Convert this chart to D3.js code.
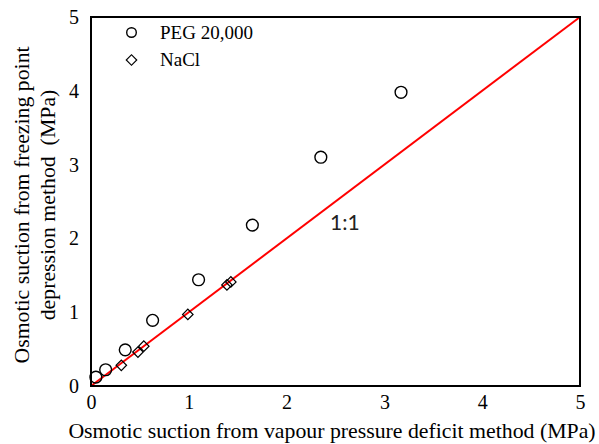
<!DOCTYPE html>
<html><head><meta charset="utf-8">
<script src="https://cdn.jsdelivr.net/npm/d3@7"></script>
<style>body{margin:0;background:#fff}svg{display:block}</style>
</head><body>
<script>
const pegX = [0.05, 0.15, 0.35, 0.63, 1.10, 1.65, 2.35, 3.17];
const pegY = [0.12, 0.22, 0.49, 0.89, 1.44, 2.18, 3.10, 3.98];
const naclX = [0.31, 0.48, 0.54, 0.99, 1.39, 1.43];
const naclY = [0.28, 0.46, 0.54, 0.97, 1.37, 1.41];
const ticks = [0, 1, 2, 3, 4, 5];
const lineXY = [[0, 0], [5, 5]];
const seriesNames = ["PEG 20,000", "NaCl"];

const W = 599, H = 444;
const m = {l: 91, r: 19, t: 17, b: 58};
const svg = d3.select("body").append("svg").attr("width", W).attr("height", H);
const x = d3.scaleLinear().domain([0, 5]).range([m.l, W - m.r]);
const y = d3.scaleLinear().domain([0, 5]).range([H - m.b, m.t]);
const serif = "'Liberation Serif','Times New Roman',serif";

// tick labels
const xa = svg.append("g").attr("transform", `translate(0,${H - m.b})`)
  .call(d3.axisBottom(x).tickValues(ticks).tickFormat(d3.format("d")).tickSize(0).tickPadding(9));
xa.select(".domain").remove();
xa.selectAll("text").attr("font-family", serif).attr("font-size", 20).attr("fill", "#000");
const ya = svg.append("g").attr("transform", `translate(${m.l},0)`)
  .call(d3.axisLeft(y).tickValues(ticks).tickFormat(d3.format("d")).tickSize(0).tickPadding(12));
ya.select(".domain").remove();
ya.selectAll("text").attr("font-family", serif).attr("font-size", 20).attr("fill", "#000");

// 1:1 line
svg.append("line")
  .attr("x1", x(lineXY[0][0])).attr("y1", y(lineXY[0][1]))
  .attr("x2", x(lineXY[1][0])).attr("y2", y(lineXY[1][1]))
  .attr("stroke", "#ff0000").attr("stroke-width", 2);

// frame
svg.append("rect").attr("x", x(0)).attr("y", y(5))
  .attr("width", x(5) - x(0)).attr("height", y(0) - y(5))
  .attr("fill", "none").attr("stroke", "#000").attr("stroke-width", 2);

const circ = d3.symbol().type(d3.symbolCircle).size(Math.PI * 5.9 * 5.9);
const circL = d3.symbol().type(d3.symbolCircle).size(Math.PI * 4.8 * 4.8);
const diam = d3.symbol().type(d3.symbolSquare).size(7.4 * 7.4);

svg.append("g").selectAll("path").data(pegX.map((d, i) => [d, pegY[i]])).join("path")
  .attr("d", circ).attr("transform", d => `translate(${x(d[0])},${y(d[1])})`)
  .attr("fill", "none").attr("stroke", "#000").attr("stroke-width", 1.4);
svg.append("g").selectAll("path").data(naclX.map((d, i) => [d, naclY[i]])).join("path")
  .attr("d", diam).attr("transform", d => `translate(${x(d[0])},${y(d[1])}) rotate(45)`)
  .attr("fill", "none").attr("stroke", "#000").attr("stroke-width", 1.2);

// legend
const lg = svg.append("g");
lg.append("path").attr("d", circL).attr("transform", "translate(131.5,32.5)")
  .attr("fill", "none").attr("stroke", "#000").attr("stroke-width", 1.4);
lg.append("path").attr("d", diam).attr("transform", "translate(131.5,60) rotate(45)")
  .attr("fill", "none").attr("stroke", "#000").attr("stroke-width", 1.2);
lg.append("text").attr("x", 160).attr("y", 39).text(seriesNames[0])
  .attr("font-family", serif).attr("font-size", 19);
lg.append("text").attr("x", 160).attr("y", 66).text(seriesNames[1])
  .attr("font-family", serif).attr("font-size", 19);

// 1:1 label
svg.append("text").attr("x", 330).attr("y", 230).text("1:1")
  .attr("font-family", "Lato,'Open Sans',sans-serif").attr("font-size", 21).attr("fill", "#222");

// axis titles
svg.append("text").attr("x", 332).attr("y", 438).attr("text-anchor", "middle")
  .attr("font-family", serif).attr("font-size", 21.8)
  .text("Osmotic suction from vapour pressure deficit method (MPa)");
const yt = svg.append("text").attr("transform", "translate(0,205) rotate(-90)")
  .attr("text-anchor", "middle").attr("font-family", serif).attr("font-size", 21.8)
  .style("white-space", "pre");
yt.append("tspan").attr("x", 0).attr("y", 29).text("Osmotic suction from freezing point");
yt.append("tspan").attr("x", 0).attr("y", 55).text("depression method  (MPa)");
</script>
</body></html>
